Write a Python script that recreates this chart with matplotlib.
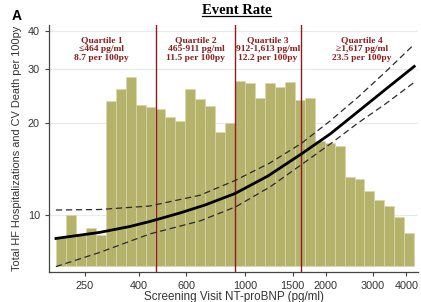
import numpy as np
import matplotlib
matplotlib.use("Agg")
import matplotlib.pyplot as plt
from matplotlib.lines import Line2D

# histogram of screening NT-proBNP (scaled onto the event-rate axis)
bar_heights = [8.5, 10.0, 8.6, 9.1, 8.6, 23.6, 25.8, 28.2, 22.9, 22.5, 22.2, 20.9,
               20.3, 25.8, 23.9, 22.7, 18.7, 20.0, 27.4, 27.0, 24.1, 27.0, 26.2, 27.2,
               23.8, 24.1, 17.5, 17.2, 16.8, 13.3, 13.1, 12.0, 11.2, 10.7, 9.85, 8.7]
bin_lo, bin_hi = 195, 4285
bar_base = 6.81

# fitted event rate and 95% CI
fit_x = [195, 284, 369, 438, 568, 705, 913, 1213, 1613, 2075, 2642, 3337, 4285]
fit_y = [8.38, 8.77, 9.17, 9.52, 10.15, 10.78, 11.75, 13.41, 15.8, 18.4, 21.8, 25.7, 30.6]
up_x = [195, 284, 438, 675, 920, 1235, 1613, 2075, 2642, 3337, 4250]
up_y = [10.38, 10.42, 10.7, 11.6, 13.0, 14.8, 17.1, 20.3, 24.3, 29.3, 35.9]
lo_x = [195, 284, 438, 675, 920, 1235, 1613, 2075, 2642, 3337, 4250]
lo_y = [6.78, 7.54, 8.67, 9.56, 10.64, 12.35, 14.57, 17.06, 20.0, 23.05, 27.0]

cutoffs = [464, 912, 1613]
quartile_x = [289, 652, 1213, 2726]
quartile_txt = ["Quartile 1\n\u2264464 pg/ml\n8.7 per 100py",
                "Quartile 2\n465-911 pg/ml\n11.5 per 100py",
                "Quartile 3\n912-1,613 pg/ml\n12.2 per 100py",
                "Quartile 4\n\u22651,617 pg/ml\n23.5 per 100py"]

xticks = [250, 400, 600, 1000, 1500, 2000, 3000, 4000]
yticks = [10, 20, 30, 40]

red = "#8e1b1b"
fig = plt.figure(figsize=(4.21, 3.02), dpi=100)
ax = fig.add_axes([0.1164, 0.0993, 0.877, 0.818])
ax.set_xscale("log")
ax.set_yscale("log")

edges = np.geomspace(bin_lo, bin_hi, len(bar_heights) + 1)
heights = np.array(bar_heights) - bar_base
ax.bar(edges[:-1], heights, width=np.diff(edges), bottom=bar_base, align="edge",
       color="#b5b26c", edgecolor="#d9d7ac", linewidth=0.5, zorder=2)

for c in cutoffs:
    ax.axvline(c, color=red, lw=1.0, zorder=3)

ax.plot(fit_x, fit_y, color="black", lw=2.0, zorder=4)
ax.plot(up_x, up_y, color="#2a2a2a", lw=0.9, dashes=(5, 3), zorder=4)
ax.plot(lo_x, lo_y, color="#2a2a2a", lw=0.9, dashes=(5, 3), zorder=4)

for qx, qt in zip(quartile_x, quartile_txt):
    ax.text(qx, 38.5, qt, ha="center", va="top", color=red, fontsize=6.8,
            fontweight="bold", family="Liberation Serif", linespacing=1.2, zorder=5)

ax.set_xlim(183.7, 4435)
ax.set_ylim(6.51, 41.8)
ax.xaxis.set_major_locator(matplotlib.ticker.FixedLocator(xticks))
ax.xaxis.set_minor_locator(matplotlib.ticker.NullLocator())
ax.set_xticklabels([str(t) for t in xticks])
ax.yaxis.set_major_locator(matplotlib.ticker.FixedLocator(yticks))
ax.yaxis.set_minor_locator(matplotlib.ticker.NullLocator())
ax.set_yticklabels([str(t) for t in yticks])
ax.grid(axis="y", color="#e3ebee", lw=0.8, zorder=0)
ax.set_axisbelow(True)

for s in ["top", "right"]:
    ax.spines[s].set_visible(False)
for s in ["left", "bottom"]:
    ax.spines[s].set_color("#444444")
    ax.spines[s].set_linewidth(0.9)
ax.tick_params(colors="#444444", labelcolor="#333333", labelsize=7.8, length=3, width=0.8)
for lab in ax.get_xticklabels() + ax.get_yticklabels():
    lab.set_family("Liberation Sans")

ax.set_xlabel("Screening Visit NT-proBNP (pg/ml)", family="Liberation Sans",
              fontsize=8.4, color="#333333", labelpad=0)
ax.set_ylabel("Total HF Hospitalizations and CV Death per 100py", family="Liberation Sans",
              fontsize=7.9, color="#333333", labelpad=4)

title = fig.text(0.562, 0.952, "Event Rate", ha="center", va="baseline",
                 family="Liberation Serif", fontweight="bold", fontsize=10.5)
fig.text(0.028, 0.935, "A", ha="left", va="baseline", family="Liberation Sans",
         fontweight="bold", fontsize=10)

fig.canvas.draw()
bb = title.get_window_extent().transformed(fig.transFigure.inverted())
uy = 0.952 - 0.006
fig.add_artist(Line2D([bb.x0, bb.x1], [uy, uy], color="black", lw=0.9,
                      transform=fig.transFigure))

fig.savefig("out.png", dpi=100)
